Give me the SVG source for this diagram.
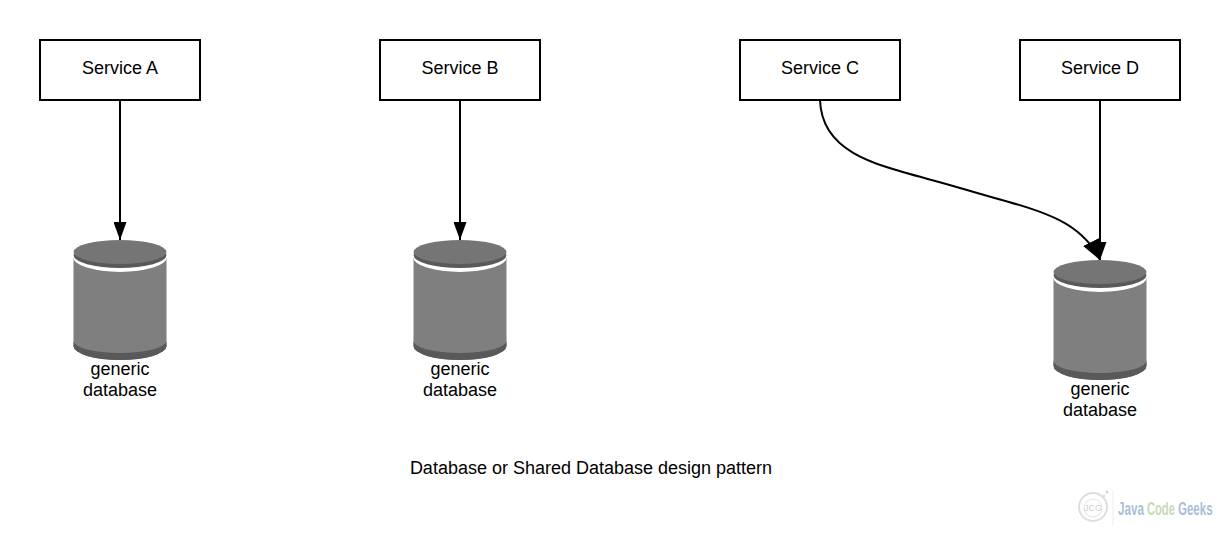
<svg xmlns="http://www.w3.org/2000/svg" width="1220" height="540" viewBox="0 0 1220 540">
<style>
.box{fill:#fff;stroke:#000;stroke-width:2}
.t{font-family:"Liberation Sans",Arial,sans-serif;font-size:18px;fill:#000;text-anchor:middle}
.c{fill:none;stroke:#000;stroke-width:2}
.wm{font-family:"Liberation Sans",Arial,sans-serif;font-size:18px;font-weight:700}
.blue{fill:#a9bfd6}
.green{fill:#c8d9b4}
</style>
<defs>
<marker id="a" markerUnits="userSpaceOnUse" markerWidth="18" markerHeight="13" refX="18" refY="6.5" viewBox="0 0 18 13" orient="auto"><path d="M0 0L18 6.5L0 13Z" fill="#000"/></marker>
<marker id="b" markerUnits="userSpaceOnUse" markerWidth="20" markerHeight="18" refX="20" refY="9" viewBox="0 0 20 18" orient="auto"><path d="M0 0L20 9L0 18Z" fill="#000"/></marker>
<g id="cyl">
<path d="M73.5 253V346A46.5 14 0 0 0 166.5 346V253Z" fill="#7f7f7f"/>
<path d="M73.5 341A46.5 12 0 0 0 166.5 341V346A46.5 14 0 0 1 73.5 346Z" fill="#595959"/>
<path d="M73 253V257A47 15 0 0 0 167 257V253Z" fill="#fff"/>
<ellipse cx="120" cy="255" rx="46.5" ry="13" fill="#595959"/>
<ellipse cx="120" cy="252" rx="46.5" ry="12" fill="#757575"/>
</g>
</defs>
<rect width="1220" height="540" fill="#fff"/>
<g id="connectors">
<path class="c" d="M120 100V240" marker-end="url(#a)"/>
<path class="c" d="M460 100V240" marker-end="url(#a)"/>
<path class="c" d="M1100 100V260" marker-end="url(#a)"/>
<path class="c" d="M820 100C822 160 890 167 960 188C1030 209 1078 215 1100 260" marker-end="url(#b)"/>
</g>
<g id="service-a"><rect class="box" x="40" y="40" width="160" height="60"/><text class="t" x="120" y="74">Service A</text></g>
<g id="service-b"><rect class="box" x="380" y="40" width="160" height="60"/><text class="t" x="460" y="74">Service B</text></g>
<g id="service-c"><rect class="box" x="740" y="40" width="160" height="60"/><text class="t" x="820" y="74">Service C</text></g>
<g id="service-d"><rect class="box" x="1020" y="40" width="160" height="60"/><text class="t" x="1100" y="74">Service D</text></g>
<g id="db-a"><use href="#cyl"/><text class="t" x="120" y="375">generic</text><text class="t" x="120" y="396">database</text></g>
<g id="db-b"><use href="#cyl" x="340"/><text class="t" x="460" y="375">generic</text><text class="t" x="460" y="396">database</text></g>
<g id="db-c"><use href="#cyl" x="980" y="20"/><text class="t" x="1100" y="395">generic</text><text class="t" x="1100" y="416">database</text></g>
<g id="caption"><text class="t" x="591" y="474">Database or Shared Database design pattern</text></g>
<g id="watermark">
<circle cx="1093" cy="507" r="14" fill="none" stroke="#dedede" stroke-width="2"/>
<circle cx="1093" cy="508" r="9" fill="none" stroke="#e4e4e4" stroke-width="1"/>
<text x="1093" y="511" font-family="Liberation Sans,sans-serif" font-size="9" fill="#cfcfcf" text-anchor="middle">JCG</text>
<circle cx="1104" cy="496" r="1.5" fill="#d6e0ea"/><circle cx="1107" cy="492" r="1.5" fill="#c8d6e4"/>
<path d="M1113 490V526" stroke="#eeeeee" stroke-width="1"/>
<text class="wm blue" transform="translate(1118 515) scale(.65 1)">Java</text>
<text class="wm green" transform="translate(1147 515) scale(.62 1)">Code</text>
<text class="wm blue" transform="translate(1178 515) scale(.64 1)">Geeks</text>
</g>
</svg>
